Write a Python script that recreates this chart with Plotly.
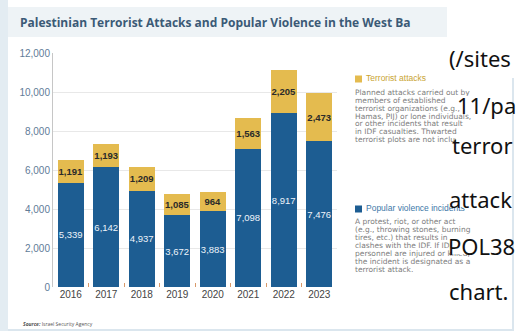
import plotly.graph_objects as go

years = ["2016", "2017", "2018", "2019", "2020", "2021", "2022", "2023"]
popular_violence = [5339, 6142, 4937, 3672, 3883, 7098, 8917, 7476]
terrorist_attacks = [1191, 1193, 1209, 1085, 964, 1563, 2205, 2473]
y_ticks = [0, 2000, 4000, 6000, 8000, 10000, 12000]

title_text = "Palestinian Terrorist Attacks and Popular Violence in the West Ba"
legend_terror_head = "Terrorist attacks"
legend_terror_body = ["Planned attacks carried out by", "members of established",
                      "terrorist organizations (e.g.,", "Hamas, PIJ) or lone individuals,",
                      "or other incidents that result", "in IDF casualties. Thwarted",
                      "terrorist plots are not included."]
legend_pop_head = "Popular violence incidents"
legend_pop_body = ["A protest, riot, or other act", "(e.g., throwing stones, burning",
                   "tires, etc.) that results in", "clashes with the IDF. If IDF",
                   "personnel are injured or killed,", "the incident is designated as a",
                   "terrorist attack."]
overlay_lines = ["(/sites", "11/pa", "terror", "attack", "POL38", "chart."]
source_text = "<b><i>Source:</i></b> Israel Security Agency"

W, H = 516, 331
PLOT_L, PLOT_R, PLOT_T, PLOT_B = 53, 337, 53, 287   # plot area in pixels

def px(x):
    return x / W

def py(y):
    return 1 - y / H

BLUE = "#1d5d92"
GOLD = "#e4bb4f"
NUMFONT = "Liberation Sans, Arial, sans-serif"
BODYFONT = "DejaVu Sans, sans-serif"

fig = go.Figure()
fig.add_trace(go.Bar(
    x=years, y=popular_violence, name=legend_pop_head, marker=dict(color=BLUE, line=dict(width=0)),
    text=[f"{v:,}" for v in popular_violence], textposition="inside", insidetextanchor="middle",
    textangle=0, constraintext="none", textfont=dict(family=NUMFONT, size=9.5, color="#eef4fa"),
))
fig.add_trace(go.Bar(
    x=years, y=terrorist_attacks, name=legend_terror_head, marker=dict(color=GOLD, line=dict(width=0)),
    text=[f"{v:,}" for v in terrorist_attacks], textposition="inside", insidetextanchor="middle",
    textangle=0, constraintext="none",
    textfont=dict(family=NUMFONT, size=9.5, color="#2a2a2a", weight="bold"),
))

# legend text blocks on a full-page pixel axis (so white caption boxes can sit on top)
T_HEAD_Y, T_BODY_Y0, T_STEP = 79, 93, 7.9
P_HEAD_Y, P_BODY_Y0, P_STEP = 209, 222, 8.1
LEG_X, HEAD_X = 355, 366

def legend_trace(xs, ys, texts, font):
    return go.Scatter(x=xs, y=ys, mode="text", text=texts, textposition="middle right",
                      textfont=font, xaxis="x2", yaxis="y2", cliponaxis=False,
                      hoverinfo="skip", showlegend=False)

fig.add_trace(legend_trace([HEAD_X], [T_HEAD_Y], [legend_terror_head],
                           dict(family=NUMFONT, size=8.5, color="#c9a433")))
fig.add_trace(legend_trace([HEAD_X], [P_HEAD_Y], [legend_pop_head],
                           dict(family=NUMFONT, size=8.5, color="#3d78a8")))
fig.add_trace(legend_trace([LEG_X] * len(legend_terror_body),
                           [T_BODY_Y0 + i * T_STEP for i in range(len(legend_terror_body))],
                           legend_terror_body, dict(family=BODYFONT, size=7.5, color="#7d7d7d")))
fig.add_trace(legend_trace([LEG_X] * len(legend_pop_body),
                           [P_BODY_Y0 + i * P_STEP for i in range(len(legend_pop_body))],
                           legend_pop_body, dict(family=BODYFONT, size=7.5, color="#7d7d7d")))

shapes = []
shapes.append(dict(type="rect", xref="paper", yref="paper", x0=px(0), x1=px(8), y0=py(331), y1=py(0),
                   fillcolor="#e3ecf2", line=dict(width=0), layer="below"))
shapes.append(dict(type="rect", xref="paper", yref="paper", x0=px(8), x1=px(447), y0=py(37), y1=py(7),
                   fillcolor="#eef3f6", line=dict(width=0), layer="below"))
shapes.append(dict(type="rect", xref="paper", yref="paper", x0=px(512), x1=px(514), y0=py(331), y1=py(78),
                   fillcolor="#dbe6ee", line=dict(width=0), layer="below"))
shapes.append(dict(type="rect", xref="paper", yref="paper", x0=px(8), x1=px(513), y0=py(331), y1=py(329),
                   fillcolor="#dbe6ee", line=dict(width=0), layer="below"))
shapes.append(dict(type="rect", xref="paper", yref="paper", x0=px(355), x1=px(362), y0=py(T_HEAD_Y + 3.5),
                   y1=py(T_HEAD_Y - 3.5), fillcolor=GOLD, line=dict(width=0)))
shapes.append(dict(type="rect", xref="paper", yref="paper", x0=px(355), x1=px(362), y0=py(P_HEAD_Y + 3.5),
                   y1=py(P_HEAD_Y - 3.5), fillcolor=BLUE, line=dict(width=0)))

overlay_x = [447, 455, 450, 447, 446, 447]
overlay_y = [58, 105, 145, 199, 246, 291]
for xx, yy in zip(overlay_x[1:], overlay_y[1:]):
    shapes.append(dict(type="rect", xref="paper", yref="paper", x0=px(xx + 6), x1=px(512),
                       y0=py(yy + 8), y1=py(yy - 9), fillcolor="white", line=dict(width=0), layer="above"))

ann = []
ann.append(dict(text=title_text, x=px(18), y=py(23), xref="paper", yref="paper", xanchor="left",
                yanchor="middle", showarrow=False,
                font=dict(family="Open Sans, sans-serif", size=12, color="#3b5a76", weight="bold")))
ann.append(dict(text=source_text, x=px(21), y=py(324), xref="paper", yref="paper", xanchor="left",
                yanchor="middle", showarrow=False,
                font=dict(family="Open Sans, sans-serif", size=5, color="#555555")))
for t, xx, yy in zip(overlay_lines, overlay_x, overlay_y):
    ann.append(dict(text=t, x=px(xx), y=py(yy), xref="paper", yref="paper", xanchor="left",
                    yanchor="middle", showarrow=False,
                    font=dict(family="Noto Sans, sans-serif", size=22, color="#111111")))

fig.update_layout(
    width=W, height=H, margin=dict(l=0, r=0, t=0, b=0, autoexpand=False),
    paper_bgcolor="white", plot_bgcolor="rgba(0,0,0,0)",
    barmode="stack", bargap=0.28, showlegend=False,
    shapes=shapes, annotations=ann,
    xaxis=dict(type="category", domain=[px(PLOT_L), px(PLOT_R)], anchor="y",
               ticks="inside", tickson="boundaries", ticklen=4, tickcolor="#d8996a",
               showgrid=False, showline=False, zeroline=False,
               tickfont=dict(family=NUMFONT, size=10, color="#444444")),
    yaxis=dict(range=[0, 12000], domain=[py(PLOT_B), py(PLOT_T)], anchor="x",
               tickvals=y_ticks, tickformat=",", showgrid=True, gridcolor="#e8e8e8",
               showline=True, linecolor="#c6c6c6", zeroline=False, ticks="",
               tickfont=dict(family=NUMFONT, size=10, color="#5f7c98")),
    xaxis2=dict(domain=[0, 1], anchor="y2", range=[0, W], visible=False, fixedrange=True),
    yaxis2=dict(domain=[0, 1], anchor="x2", range=[H, 0], visible=False, fixedrange=True),
)

fig.write_html("out.html")
